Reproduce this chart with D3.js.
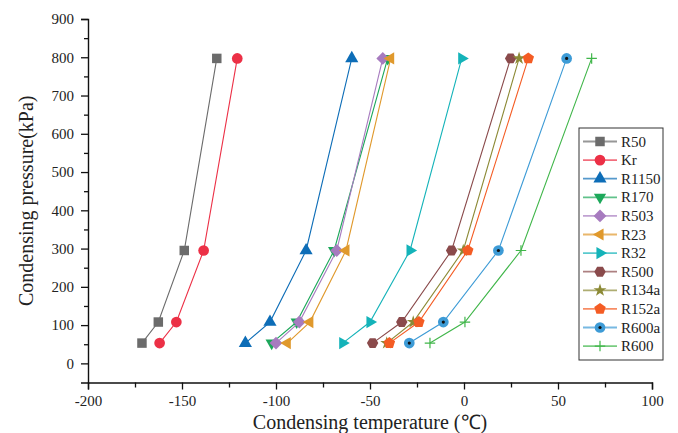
<!DOCTYPE html>
<html>
<head>
<meta charset="utf-8">
<script src="https://cdn.jsdelivr.net/npm/d3@7"></script>
<style>
  body { margin: 0; background: #fff; }
  text { font-family: "Liberation Serif", "Times New Roman", serif; fill: #222; }
</style>
</head>
<body>
<svg id="canvas" width="678" height="433"></svg>
<script>
// refrigerant names, in legend order
const refrigerants = ["R50", "Kr", "R1150", "R170", "R503", "R23", "R32", "R500", "R134a", "R152a", "R600a", "R600"];

// condensing pressure levels (kPa)
const pressures = [53, 108, 295, 797];

// condensing temperatures (°C), one per pressure level
const tempR50 = [-171.3, -162.6, -148.8, -131.5];
const tempKr = [-161.9, -153.0, -138.5, -120.6];
const tempR1150 = [-116.3, -103.2, -84.0, -59.7];
const tempR170 = [-102.3, -89.0, -69.1, -40.6];
const tempR503 = [-100.0, -87.6, -67.7, -43.2];
const tempR23 = [-94.0, -82.0, -62.8, -39.0];
const tempR32 = [-64.5, -50.0, -28.7, -1.2];
const tempR500 = [-48.6, -33.1, -6.6, 24.8];
const tempR134a = [-41.1, -27.0, -0.4, 29.3];
const tempR152a = [-39.7, -24.0, 2.0, 34.2];
const tempR600a = [-29.1, -11.0, 18.3, 54.6];
const tempR600 = [-18.1, 0.5, 30.3, 67.9];

const temps = [tempR50, tempKr, tempR1150, tempR170, tempR503, tempR23, tempR32, tempR500, tempR134a, tempR152a, tempR600a, tempR600];

const xTicks = [-200, -150, -100, -50, 0, 50, 100];
const yTicks = [0, 100, 200, 300, 400, 500, 600, 700, 800, 900];

const colors = ["#6b6b6b", "#ec3046", "#0d6db7", "#1ca85a", "#a77bbf", "#e0992c", "#14b3b9", "#8a4a4b", "#8c8a36", "#f45c24", "#3d9bd6", "#40b64a"];

// custom marker shapes for d3.symbol
const polygon = (n, rot) => ({
  draw(ctx, size) {
    const r = Math.sqrt(size) / 2;
    for (let i = 0; i < n; i++) {
      const a = rot + (i * 2 * Math.PI) / n;
      const px = r * Math.sin(a);
      const py = -r * Math.cos(a);
      if (i === 0) ctx.moveTo(px, py);
      else ctx.lineTo(px, py);
    }
    ctx.closePath();
  }
});
const plus = {
  draw(ctx, size) {
    const r = Math.sqrt(size) / 2;
    ctx.moveTo(-r, 0);
    ctx.lineTo(r, 0);
    ctx.moveTo(0, -r);
    ctx.lineTo(0, r);
  }
};

const markers = [
  { type: polygon(4, Math.PI / 4), size: 180 },
  { type: d3.symbolCircle, size: 90 },
  { type: polygon(3, 0), size: 230 },
  { type: polygon(3, Math.PI), size: 200 },
  { type: polygon(4, 0), size: 165 },
  { type: polygon(3, -Math.PI / 2), size: 200 },
  { type: polygon(3, Math.PI / 2), size: 200 },
  { type: polygon(6, Math.PI / 6), size: 130 },
  { type: d3.symbolStar, size: 52 },
  { type: polygon(5, 0), size: 145 },
  { type: d3.symbolCircle, size: 90 },
  { type: plus, size: 110 }
];

const series = refrigerants.map((name, i) => ({
  name: name,
  color: colors[i],
  marker: markers[i],
  points: temps[i].map((t, j) => ({ t: t, p: pressures[j] }))
}));

const canvas = d3.select("#canvas");

const x = d3.scaleLinear().domain([-200, 100]).range([88, 652]);
const y = d3.scaleLinear().domain([-50, 900]).range([382.5, 19]);

const line = d3
  .line()
  .x((d) => x(d.t))
  .y((d) => y(d.p));

const symbolPath = (m) => d3.symbol().type(m.type).size(m.size)();

// axes (plain hyphen for negatives, like the original)
canvas
  .append("g")
  .attr("transform", `translate(0, ${y(-50)})`)
  .call(d3.axisBottom(x).tickValues(xTicks).tickSize(7).tickPadding(6).tickFormat((d) => String(d)));
canvas
  .append("g")
  .attr("transform", `translate(0, ${y(-50)})`)
  .call(d3.axisBottom(x).tickValues(d3.range(-175, 100, 50)).tickSize(5).tickFormat(""))
  .select(".domain")
  .remove();

canvas
  .append("g")
  .attr("transform", `translate(${x(-200)}, 0)`)
  .call(d3.axisLeft(y).tickValues(yTicks).tickSize(7).tickPadding(7).tickFormat((d) => String(d)));
canvas
  .append("g")
  .attr("transform", `translate(${x(-200)}, 0)`)
  .call(d3.axisLeft(y).tickValues(d3.range(50, 900, 100)).tickSize(4).tickFormat(""))
  .select(".domain")
  .remove();

canvas.selectAll(".domain").attr("stroke", "#111").attr("stroke-width", 1.4);
canvas.selectAll(".tick line").attr("stroke", "#111").attr("stroke-width", 1.3);
canvas
  .selectAll(".tick text")
  .style("font-family", '"Liberation Serif", serif')
  .style("font-size", "15px")
  .attr("fill", "#222");

// axis titles
canvas
  .append("text")
  .attr("x", (x(-200) + x(100)) / 2)
  .attr("y", 429)
  .attr("text-anchor", "middle")
  .style("font-size", "20px")
  .text("Condensing temperature (℃)");

canvas
  .append("text")
  .attr("transform", `translate(33, ${y(425)}) rotate(-90)`)
  .attr("text-anchor", "middle")
  .style("font-size", "20px")
  .text("Condensing pressure(kPa)");

// series lines + markers
const group = canvas
  .selectAll("g.series")
  .data(series)
  .enter()
  .append("g")
  .attr("class", "series");

group
  .append("path")
  .attr("d", (s) => line(s.points))
  .attr("fill", "none")
  .attr("stroke", (s) => s.color)
  .attr("stroke-width", 1.1);

group.each(function (s) {
  const g = d3.select(this);
  const isPlus = s.marker.type === plus;
  g.selectAll("path.marker")
    .data(s.points)
    .enter()
    .append("path")
    .attr("class", "marker")
    .attr("transform", (d) => `translate(${x(d.t)}, ${y(d.p)})`)
    .attr("d", symbolPath(s.marker))
    .attr("fill", isPlus ? "none" : s.color)
    .attr("stroke", isPlus ? s.color : "none")
    .attr("stroke-width", 1.2);
  if (s.name === "R600a") {
    g.selectAll("circle.dot")
      .data(s.points)
      .enter()
      .append("circle")
      .attr("cx", (d) => x(d.t))
      .attr("cy", (d) => y(d.p))
      .attr("r", 1.6)
      .attr("fill", "#111");
  }
});

// legend
const legend = canvas.append("g").attr("transform", "translate(579, 128)");
legend
  .append("rect")
  .attr("width", 84)
  .attr("height", 232)
  .attr("fill", "#fff")
  .attr("stroke", "#333")
  .attr("stroke-width", 1);

const item = legend
  .selectAll("g.item")
  .data(series)
  .enter()
  .append("g")
  .attr("class", "item")
  .attr("transform", (s, i) => `translate(0, ${13.5 + i * 18.6})`);

item
  .append("line")
  .attr("x1", 4)
  .attr("x2", 38)
  .attr("stroke", (s) => s.color)
  .attr("stroke-opacity", 0.7)
  .attr("stroke-width", 1.8);

item
  .append("path")
  .attr("transform", "translate(21, 0)")
  .attr("d", (s) => symbolPath(s.marker))
  .attr("fill", (s) => (s.marker.type === plus ? "none" : s.color))
  .attr("stroke", (s) => (s.marker.type === plus ? s.color : "none"))
  .attr("stroke-width", 1.2);

item
  .filter((s) => s.name === "R600a")
  .append("circle")
  .attr("cx", 21)
  .attr("r", 1.6)
  .attr("fill", "#111");

item
  .append("text")
  .attr("x", 42)
  .attr("y", 5)
  .style("font-size", "15px")
  .text((s) => s.name);
</script>
</body>
</html>
